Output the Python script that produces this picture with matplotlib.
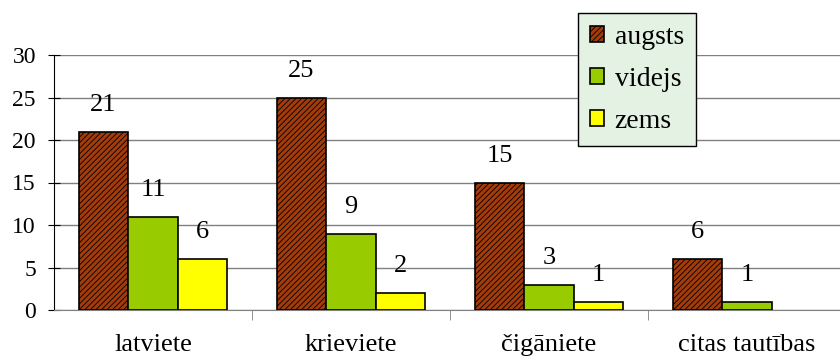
import matplotlib
matplotlib.use("Agg")
import matplotlib.pyplot as plt
import numpy as np

categories = ["latviete", "krieviete", "čigāniete", "citas tautības"]
series_names = ["augsts", "videjs", "zems"]
augsts = [21, 25, 15, 6]
videjs = [11, 9, 3, 1]
zems = [6, 2, 1, 0]
y_ticks = [0, 5, 10, 15, 20, 25, 30]

plt.rcParams['font.family'] = ['Liberation Serif', 'DejaVu Serif']
plt.rcParams['hatch.linewidth'] = 0.6

fig = plt.figure(figsize=(8.4, 3.61), dpi=100)
ax = fig.add_axes([54/840, 1-310/361, 792/840, 255/361])

x = np.arange(len(categories))
w = 0.25
styles = [
    dict(facecolor="#a33c0a", hatch="//////", edgecolor="black"),
    dict(facecolor="#99cc00", edgecolor="black"),
    dict(facecolor="#ffff00", edgecolor="black"),
]
data = [augsts, videjs, zems]
for i, (name, vals, st) in enumerate(zip(series_names, data, styles)):
    bars = ax.bar(x + (i - 1) * w, vals, w, label=name, linewidth=1.2, zorder=3, **st)
    for b, v in zip(bars, vals):
        if v > 0:
            ax.annotate(str(v), (b.get_x() + b.get_width()/2, v), xytext=(0, 15),
                        textcoords="offset points", ha="center", va="baseline",
                        fontsize=19, zorder=4)
        else:
            b.set_visible(False)

ax.set_xlim(-0.5, 3.5)
ax.set_ylim(0, 30)
ax.set_yticks(y_ticks)
ax.yaxis.grid(True, color="#808080", linewidth=1.0, zorder=0)
ax.set_axisbelow(True)
for s in ["top", "right"]:
    ax.spines[s].set_visible(False)
ax.spines["left"].set_color("black")
ax.spines["bottom"].set_color("#808080")
ax.tick_params(axis="y", direction="inout", length=8, labelsize=17, pad=9)
ax.set_xticks(x)
ax.set_xticklabels(categories, fontsize=19)
ax.tick_params(axis="x", length=0, pad=17)
ax.set_xticks([0.5, 1.5, 2.5], minor=True)
ax.tick_params(axis="x", which="minor", length=7, direction="out", color="#808080")

leg = ax.legend(loc="upper left", bbox_to_anchor=(578/840, 1-13/361), bbox_transform=fig.transFigure,
                borderaxespad=0, fontsize=20, frameon=True, fancybox=False,
                handlelength=0.5, handleheight=0.5, labelspacing=0.62, handletextpad=0.4,
                borderpad=0.42)
leg.get_frame().set_facecolor("#e3f2e3")
leg.get_frame().set_edgecolor("black")
leg.get_frame().set_alpha(1)
leg.set_zorder(10)

fig.savefig("out.png", dpi=100)
